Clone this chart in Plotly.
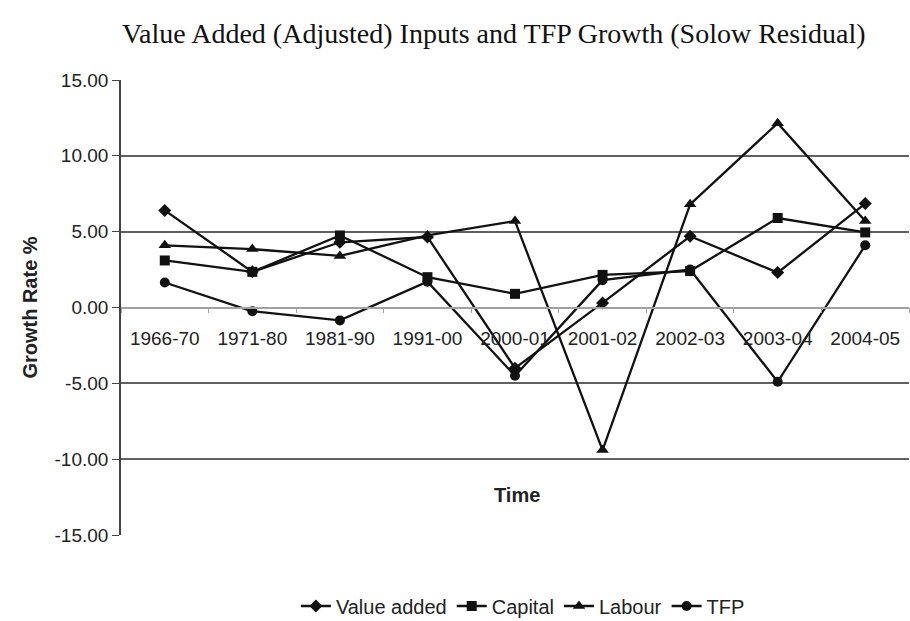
import plotly.graph_objects as go

categories = ["1966-70", "1971-80", "1981-90", "1991-00", "2000-01", "2001-02", "2002-03", "2003-04", "2004-05"]
value_added = [6.4, 2.35, 4.3, 4.65, -4.0, 0.3, 4.7, 2.3, 6.85]
capital = [3.1, 2.35, 4.75, 2.0, 0.9, 2.15, 2.4, 5.9, 4.95]
labour = [4.1, 3.85, 3.4, 4.75, 5.7, -9.4, 6.8, 12.15, 5.7]
tfp = [1.65, -0.25, -0.85, 1.7, -4.5, 1.8, 2.5, -4.9, 4.1]

y_tick_values = [-15, -10, -5, 0, 5, 10, 15]
y_tick_labels = ["-15.00", "-10.00", "-5.00", "0.00", "5.00", "10.00", "15.00"]

series = [
    ("Value added", value_added, "diamond", 10),
    ("Capital", capital, "square", 10),
    ("Labour", labour, "triangle-up", 11),
    ("TFP", tfp, "circle", 10),
]

fig = go.Figure()
for name, vals, sym, sz in series:
    fig.add_trace(go.Scatter(
        x=categories, y=vals, name=name, mode="lines+markers",
        line=dict(color="#111111", width=2.3),
        marker=dict(symbol=sym, size=sz, color="#111111"),
    ))

PLOT_TOP, PLOT_BOTTOM = 80, 535
PLOT_H = PLOT_BOTTOM - PLOT_TOP

fig.update_layout(
    width=910, height=621,
    paper_bgcolor="white", plot_bgcolor="white",
    margin=dict(l=121, r=1, t=PLOT_TOP, b=621 - PLOT_BOTTOM, autoexpand=False),
    font=dict(family="Liberation Sans, Arial, sans-serif", size=19, color="#222222"),
    title=dict(
        text="Value Added (Adjusted) Inputs and TFP Growth (Solow Residual)",
        font=dict(family="Liberation Serif, Times New Roman, serif", size=28, color="#111111"),
        x=122/910, xref="container", xanchor="left",
        y=1 - 33/621, yref="container", yanchor="middle",
    ),
    showlegend=True,
    legend=dict(
        orientation="h", x=0.51, xref="paper", xanchor="center",
        y=-(606 - PLOT_BOTTOM) / PLOT_H, yref="paper", yanchor="middle",
        font=dict(size=20, color="#222222"),
        itemwidth=30, tracegroupgap=0,
    ),
    xaxis=dict(
        type="category",
        anchor="free", position=0.5,
        showline=True, linecolor="#a0a0a0", linewidth=1.5,
        ticks="outside", ticklen=5, tickcolor="#a0a0a0",
        tickson="boundaries",
        ticklabelstandoff=14,
        showgrid=False, zeroline=False,
        tickfont=dict(size=19, color="#222222"),
        range=[-0.5, 8.5],
    ),
    yaxis=dict(
        range=[-15, 15], tickvals=y_tick_values, ticktext=y_tick_labels,
        showgrid=True, gridcolor="#606060", gridwidth=1.6,
        zeroline=False,
        showline=True, linecolor="#444444", linewidth=1.6,
        ticks="outside", ticklen=7, tickcolor="#444444",
        tickfont=dict(size=19, color="#222222"),
        title=dict(text="<b>Growth Rate %</b>", font=dict(size=20, color="#222222"), standoff=12),
    ),
    annotations=[
        dict(text="<b>Time</b>", x=(517 - 121) / 788, xref="paper",
             y=(PLOT_BOTTOM - 495) / PLOT_H, yref="paper",
             showarrow=False, font=dict(size=20, color="#222222"), xanchor="center", yanchor="middle"),
    ],
)

fig.write_html("out.html", config={"displayModeBar": False},
               post_script="document.body.style.margin='0';")
